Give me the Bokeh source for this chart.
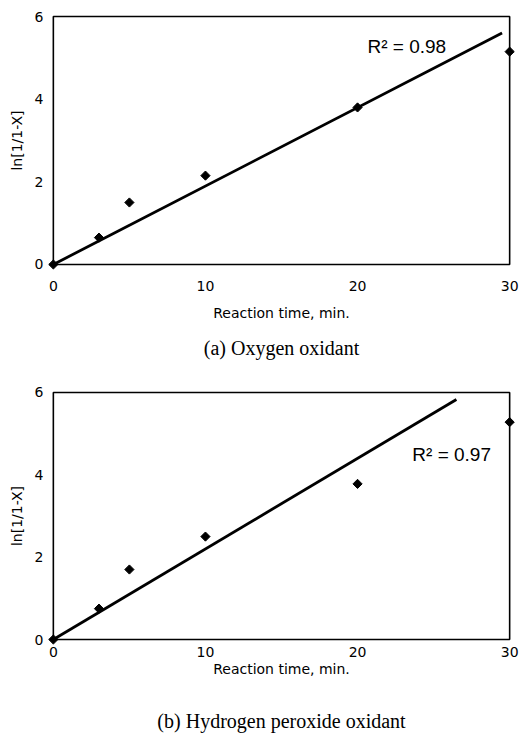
from bokeh.plotting import figure
from bokeh.models import Range1d, FixedTicker, Title, Label
from bokeh.layouts import column
from bokeh.embed import file_html
from bokeh.resources import INLINE

# ---- data ----
time_min = [0, 3, 5, 10, 20, 30]
ln_oxygen = [0, 0.65, 1.5, 2.15, 3.8, 5.15]
ln_h2o2 = [0, 0.75, 1.7, 2.5, 3.78, 5.28]
fit_oxygen_x = [0, 29.5]
fit_oxygen_y = [0, 5.6]
fit_h2o2_x = [0, 26.5]
fit_h2o2_y = [0, 5.83]
r2_oxygen = "R\u00b2 = 0.98"
r2_h2o2 = "R\u00b2 = 0.97"
x_ticks = [0, 10, 20, 30]
y_ticks = [0, 2, 4, 6]
x_limits = [0, 30]
y_limits = [0, 6]
x_label = "Reaction time, min."
y_label = "ln[1/1-X]"
caption_a = "(a) Oxygen oxidant"
caption_b = "(b) Hydrogen peroxide oxidant"

XPAD = 0.45
YPAD = 0.17
TICK_FONT = "DejaVu Sans"


def make_panel(x, y, fx, fy, r2, r2_pos, caption, frame_h, top_b, bottom_b,
               tick_standoff, label_standoff, cap_standoff):
    p = figure(width=523, frame_width=470, frame_height=frame_h,
               x_range=Range1d(x_limits[0] - XPAD, x_limits[1] + XPAD),
               y_range=Range1d(y_limits[0] - YPAD, y_limits[1] + YPAD),
               output_backend="svg", toolbar_location=None,
               min_border_left=46, min_border_right=7,
               min_border_top=top_b, min_border_bottom=bottom_b)
    p.outline_line_color = None
    p.xgrid.visible = False
    p.ygrid.visible = False
    p.background_fill_color = "white"
    p.border_fill_color = "white"

    # plot box
    p.quad(left=[x_limits[0]], right=[x_limits[1]], bottom=[y_limits[0]],
           top=[y_limits[1]], fill_color=None, line_color="black", line_width=1.6)

    for ax in (p.xaxis[0], p.yaxis[0]):
        ax.axis_line_color = None
        ax.major_tick_in = 0
        ax.major_tick_out = 0
        ax.minor_tick_line_color = None
        ax.major_label_text_font = TICK_FONT
        ax.major_label_text_font_size = "14px"
        ax.major_label_text_color = "black"
        ax.axis_label_text_font = TICK_FONT
        ax.axis_label_text_font_size = "14px"
        ax.axis_label_text_font_style = "normal"
        ax.axis_label_text_color = "black"
    p.xaxis.ticker = FixedTicker(ticks=x_ticks)
    p.yaxis.ticker = FixedTicker(ticks=y_ticks)
    p.xaxis.axis_label = x_label
    p.yaxis.axis_label = y_label
    p.xaxis.major_label_standoff = tick_standoff
    p.xaxis.axis_label_standoff = label_standoff
    p.yaxis.major_label_standoff = 3
    p.yaxis.axis_label_standoff = 7

    p.line(fx, fy, line_color="black", line_width=2.8)
    p.scatter(x, y, marker="square", angle=0.785398, size=6.5,
              fill_color="black", line_color="black")

    p.add_layout(Label(x=r2_pos[0], y=r2_pos[1], text=r2,
                       text_font="Liberation Sans", text_font_size="19px",
                       text_baseline="middle", text_align="left",
                       text_color="black"))

    p.add_layout(Title(text=caption, align="center", text_font="Liberation Serif",
                       text_font_size="20px", text_font_style="normal",
                       text_color="black", standoff=cap_standoff), "below")
    return p


p1 = make_panel(time_min, ln_oxygen, fit_oxygen_x, fit_oxygen_y, r2_oxygen,
                (20.65, 5.27), caption_a, 262, 9, 112, 9, 11, 23)
p2 = make_panel(time_min, ln_h2o2, fit_h2o2_x, fit_h2o2_y, r2_h2o2,
                (23.6, 4.49), caption_b, 261, 2, 91, 0, 1, 56)

layout = column(p1, p2, spacing=0)
open("out.html", "w").write(file_html(layout, INLINE))
